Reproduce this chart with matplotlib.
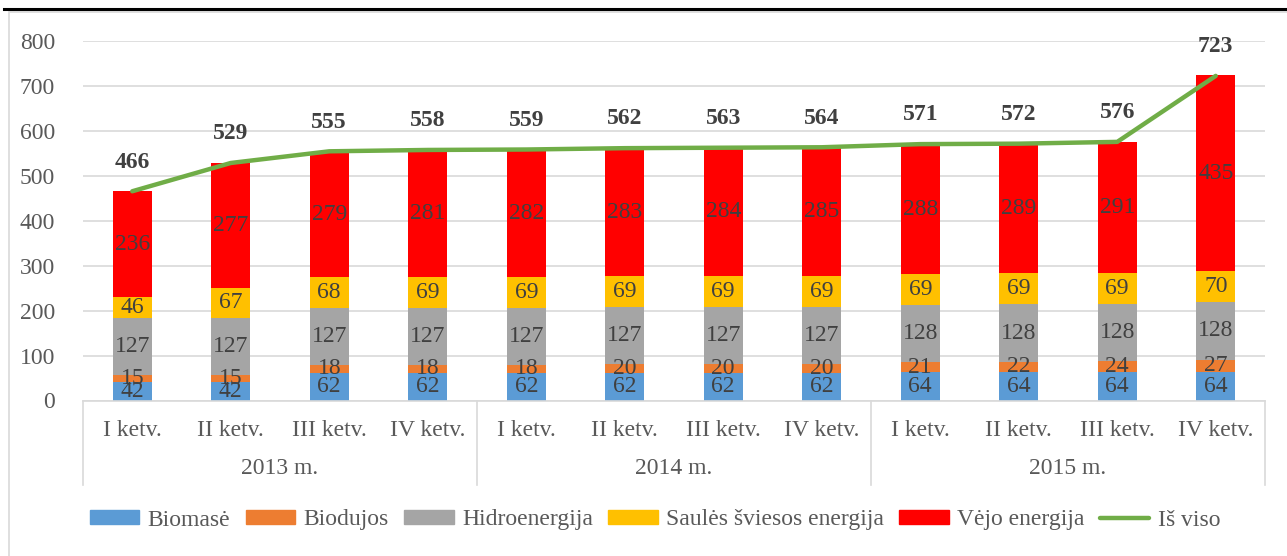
import numpy as np
import matplotlib.pyplot as plt
from matplotlib.patches import Rectangle, Patch
from matplotlib.lines import Line2D
from matplotlib.transforms import blended_transform_factory

# duomenys
ketvirciai = ['I ketv.', 'II ketv.', 'III ketv.', 'IV ketv.'] * 3
metai = ['2013 m.', '2014 m.', '2015 m.']

biomase = [42, 42, 62, 62, 62, 62, 62, 62, 64, 64, 64, 64]
biodujos = [15, 15, 18, 18, 18, 20, 20, 20, 21, 22, 24, 27]
hidro = [127, 127, 127, 127, 127, 127, 127, 127, 128, 128, 128, 128]
saules = [46, 67, 68, 69, 69, 69, 69, 69, 69, 69, 69, 70]
vejo = [236, 277, 279, 281, 282, 283, 284, 285, 288, 289, 291, 435]
is_viso = [466, 529, 555, 558, 559, 562, 563, 564, 571, 572, 576, 723]

serijos = [
    ('Biomasė', biomase, '#5B9BD5'),
    ('Biodujos', biodujos, '#ED7D31'),
    ('Hidroenergija', hidro, '#A5A5A5'),
    ('Saulės šviesos energija', saules, '#FFC000'),
    ('Vėjo energija', vejo, '#FF0000'),
]

plt.rcParams['font.family'] = ['Liberation Serif', 'DejaVu Serif']
W, H = 1287, 556
fs = 17
tekstas = '#595959'
etikete = '#404040'

fig = plt.figure(figsize=(W / 100, H / 100), dpi=100)

# puslapio linija ir diagramos rėmas
fig.add_artist(Line2D([4 / W, 1], [1 - 8.5 / H] * 2, color='black', lw=2.2,
                      transform=fig.transFigure))
fig.add_artist(Rectangle((8.5 / W, -0.1), 1.2, 1 - 12 / H + 0.1, fill=False,
                         edgecolor='#D9D9D9', lw=1.2, transform=fig.transFigure))

x0, x1 = 83, 1265
y_top, y_bot = 41.3, 400.5
ax = fig.add_axes([x0 / W, 1 - y_bot / H, (x1 - x0) / W, (y_bot - y_top) / H])

x = np.arange(len(ketvirciai))
apacia = np.zeros(len(x))
for pav, reiksmes, spalva in serijos:
    v = np.array(reiksmes)
    ax.bar(x, v, 0.4, bottom=apacia, color=spalva, label=pav, zorder=2)
    for xi, b, h in zip(x, apacia, v):
        ax.text(xi, b + h / 2, str(h), ha='center', va='center',
                fontsize=fs, color=etikete, zorder=3)
    apacia += v

ax.plot(x, is_viso, color='#70AD47', lw=3.2, solid_capstyle='round', zorder=4)
for xi, t in zip(x, is_viso):
    ax.annotate(str(t), (xi, t), xytext=(0, 13.5), textcoords='offset points',
                ha='center', va='bottom', fontsize=fs, fontweight='bold',
                color=etikete)

ax.set_xlim(-0.5, 11.5)
ax.set_ylim(0, 800)
ax.set_yticks(range(0, 801, 100))
ax.tick_params(axis='y', length=0, pad=20, labelsize=fs, labelcolor=tekstas)
ax.set_xticks([])
ax.grid(axis='y', color='#D9D9D9', lw=1.2, zorder=0)
for s in ['top', 'right', 'left']:
    ax.spines[s].set_visible(False)
ax.spines['bottom'].set_color('#D9D9D9')
ax.spines['bottom'].set_linewidth(1.2)

# kategorijų ašis su dviem lygiais
trans = blended_transform_factory(ax.transData, ax.transAxes)
ah = y_bot - y_top
for xi, k in zip(x, ketvirciai):
    ax.text(xi, -(431 - y_bot) / ah, k, transform=trans, ha='center',
            va='center', fontsize=fs, color=tekstas)
for i, m in enumerate(metai):
    ax.text(4 * i + 1.5, -(468 - y_bot) / ah, m, transform=trans,
            ha='center', va='center', fontsize=fs, color=tekstas)
for sx in [-0.5, 3.5, 7.5, 11.5]:
    ax.add_artist(Line2D([sx, sx], [0, -(485 - y_bot) / ah], transform=trans,
                         color='#D9D9D9', lw=1.2, clip_on=False))

rankenos = [Patch(color=c, label=p) for p, _, c in serijos]
rankenos.append(Line2D([], [], color='#70AD47', lw=3.2,
                       solid_capstyle='round', label='Iš viso'))
fig.legend(handles=rankenos, loc='center', ncol=6, frameon=False,
           bbox_to_anchor=(655 / W, 1 - 520 / H), fontsize=fs,
           labelcolor=tekstas, handlelength=2.1, handleheight=0.5,
           handletextpad=0.35, columnspacing=0.65)

fig.savefig('out.png', dpi=100)
